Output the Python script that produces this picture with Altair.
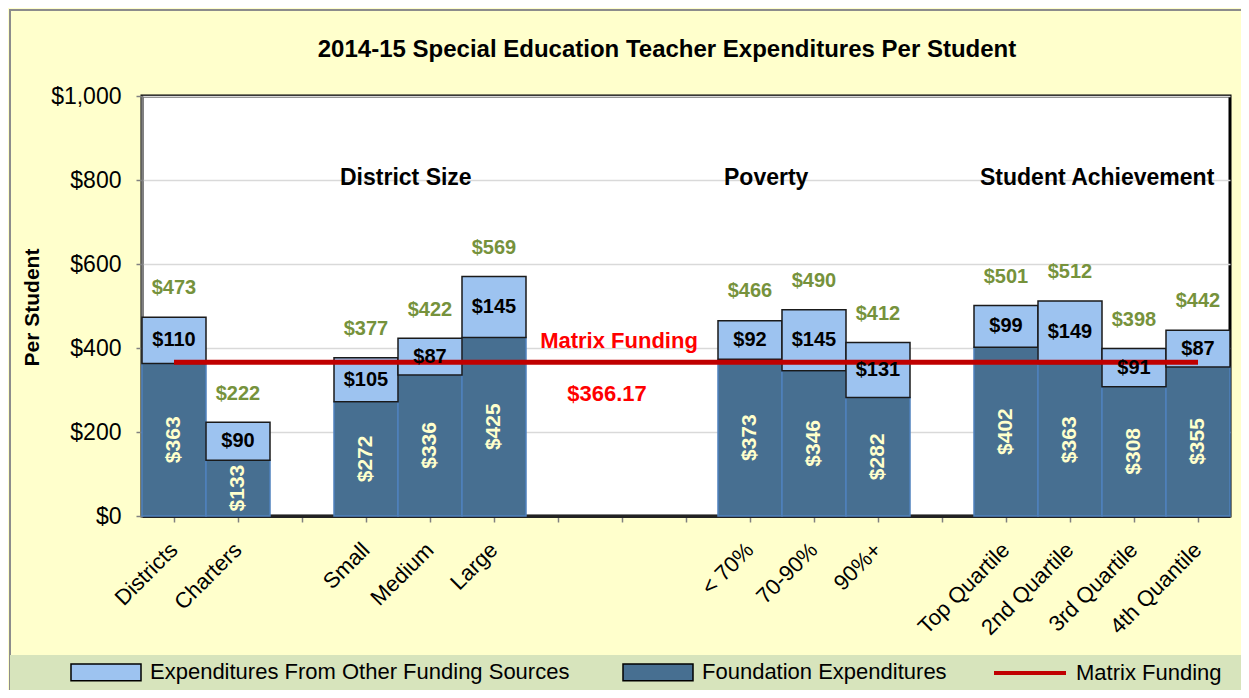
import altair as alt
import pandas as pd

# ---------------- data ----------------
categories = ["Districts", "Charters", "Small", "Medium", "Large",
              "< 70%", "70-90%", "90%+",
              "Top Quartile", "2nd Quartile", "3rd Quartile", "4th Quantile"]
foundation = [363, 133, 272, 336, 425, 373, 346, 282, 402, 363, 308, 355]
other = [110, 90, 105, 87, 145, 92, 145, 131, 99, 149, 91, 87]
totals = [473, 222, 377, 422, 569, 466, 490, 412, 501, 512, 398, 442]

axis_slots = ["Districts", "Charters", "gap1", "Small", "Medium", "Large",
              "gap2", "gap3", "gap4", "< 70%", "70-90%", "90%+", "gap5",
              "Top Quartile", "2nd Quartile", "3rd Quartile", "4th Quantile"]

matrix_value = 366.17
group_labels = ["District Size", "Poverty", "Student Achievement"]
group_anchor = ["Small", "< 70%", "Top Quartile"]

S_OTHER = "Expenditures From Other Funding Sources"
S_FOUND = "Foundation Expenditures"
S_MATRIX = "Matrix Funding"
bar_series = [S_OTHER, S_FOUND]
bar_colors = ["#9DC3F0", "#476F91"]
matrix_color = "#C00000"

FONT = "Liberation Sans"

# ---------------- tables ----------------
rows = []
for c, f, o in zip(categories, foundation, other):
    rows.append({"cat": c, "series": S_FOUND, "lo": 0, "hi": f, "val": f})
    rows.append({"cat": c, "series": S_OTHER, "lo": f, "hi": f + o, "val": o})
bars_df = pd.DataFrame(rows)
bars_df["mid"] = (bars_df["lo"] + bars_df["hi"]) / 2

tot_df = pd.DataFrame({"cat": categories, "total": totals})
rule_df = pd.DataFrame({"start": [categories[0]], "end": [categories[-1]],
                        "value": [matrix_value], "series": [S_MATRIX]})
grp_df = pd.DataFrame({"label": group_labels, "cat": group_anchor})
one = pd.DataFrame({"k": [0]})

x_scale = alt.Scale(domain=axis_slots, paddingInner=0, paddingOuter=0)
y_scale = alt.Scale(domain=[0, 1000])
color_scale = alt.Scale(domain=bar_series, range=bar_colors)
stroke_scale = alt.Scale(domain=[S_MATRIX], range=[matrix_color])

x_axis = alt.Axis(
    title=None, labelAngle=-45, labelAlign="right", labelBaseline="middle",
    labelFont=FONT, labelFontSize=22, labelColor="#000000", labelPadding=24,
    labelExpr="indexof(datum.label, 'gap') == 0 ? '' : datum.label",
    domainColor="#222222", domainWidth=3, tickColor="#808080", tickWidth=1.5,
    tickSize=6, labelOverlap=False,
)
y_axis = alt.Axis(
    title="Per Student", values=[0, 200, 400, 600, 800, 1000], format="$,.0f",
    labelFont=FONT, labelFontSize=23, labelColor="#000000", labelPadding=15,
    titleFont=FONT, titleFontSize=21, titleFontWeight="bold", titleColor="#000000",
    titleAngle=-90, titleX=-100, titleY=211, titleAlign="center", titleBaseline="bottom",
    domainColor="#808080", domainWidth=2.5, tickColor="#808080", tickWidth=1.5,
    tickSize=6, gridColor="#D9D9D9", gridWidth=1.5,
)

fill_legend = alt.Legend(
    title=None, orient="none", legendX=-72, legendY=540, direction="horizontal",
    labelFont=FONT, labelFontSize=22, labelColor="#000000", labelOffset=8,
    labelLimit=800, symbolSize=4900, columnPadding=50, padding=0,
    symbolType="M-1,-0.24H1V0.24H-1Z", symbolStrokeColor="#000000",
    symbolStrokeWidth=1.5, symbolOpacity=1,
)
stroke_legend = alt.Legend(
    title=None, orient="none", legendX=850, legendY=539, direction="horizontal",
    labelFont=FONT, labelFontSize=22, labelColor="#000000", labelOffset=8,
    labelLimit=800, symbolSize=5184, symbolType="stroke", symbolStrokeWidth=4,
    padding=0,
)

# decorative background band for the legend and outer frame
band = alt.Chart(one).mark_rect(color="#D7E4BC").encode(
    x=alt.value(-132), x2=alt.value(1100), y=alt.value(559), y2=alt.value(600))
frame = alt.Chart(one).mark_rect(fillOpacity=0, stroke="#8C8C8C", strokeWidth=2).encode(
    x=alt.value(-132), x2=alt.value(1110), y=alt.value(-86), y2=alt.value(610))

base = alt.Chart(bars_df)
dark = base.transform_filter(alt.datum.series == S_FOUND).mark_bar(
    stroke="#4F81BD", strokeWidth=1.5, opacity=1).encode(
    x=alt.X("cat:N", scale=x_scale, axis=x_axis),
    y=alt.Y("lo:Q", scale=y_scale, axis=y_axis),
    y2="hi:Q",
    color=alt.Color("series:N", scale=color_scale, legend=fill_legend),
)
light = base.transform_filter(alt.datum.series == S_OTHER).mark_bar(
    stroke="#1A1A1A", strokeWidth=1.5, opacity=1).encode(
    x=alt.X("cat:N", scale=x_scale),
    y=alt.Y("lo:Q", scale=y_scale),
    y2="hi:Q",
    color=alt.Color("series:N", scale=color_scale, legend=fill_legend),
)

found_txt = base.transform_filter(alt.datum.series == S_FOUND).mark_text(
    angle=270, font=FONT, fontSize=21, fontWeight="bold", color="#FFFFCC",
    baseline="middle", align="center").encode(
    x=alt.X("cat:N", scale=x_scale),
    y=alt.Y("mid:Q", scale=y_scale),
    text=alt.Text("val:Q", format="$,.0f"),
)
other_txt = base.transform_filter(alt.datum.series == S_OTHER).mark_text(
    font=FONT, fontSize=20, fontWeight="bold", color="#000000",
    baseline="middle", align="center").encode(
    x=alt.X("cat:N", scale=x_scale),
    y=alt.Y("mid:Q", scale=y_scale),
    text=alt.Text("val:Q", format="$,.0f"),
)
tot_txt = alt.Chart(tot_df).mark_text(
    font=FONT, fontSize=20, fontWeight="bold", color="#76923C",
    baseline="middle", align="center", dy=-29).encode(
    x=alt.X("cat:N", scale=x_scale),
    y=alt.Y("total:Q", scale=y_scale),
    text=alt.Text("total:Q", format="$,.0f"),
)

rule = alt.Chart(rule_df).mark_rule(strokeWidth=5).encode(
    x=alt.X("start:N", scale=x_scale),
    x2="end:N",
    y=alt.Y("value:Q", scale=y_scale),
    stroke=alt.Stroke("series:N", scale=stroke_scale, legend=stroke_legend),
)
matrix_lbl = alt.Chart(one).mark_text(
    font=FONT, fontSize=22, fontWeight="bold", color="#FF0000",
    align="center", baseline="middle", dx=-3, dy=-21, text=S_MATRIX).encode(
    x=alt.X(datum="gap3", scale=x_scale), y=alt.Y(datum=matrix_value, scale=y_scale))
matrix_val = alt.Chart(one).mark_text(
    font=FONT, fontSize=22, fontWeight="bold", color="#FF0000",
    align="center", baseline="middle", dx=-15, dy=32, text=f"${matrix_value:.2f}").encode(
    x=alt.X(datum="gap3", scale=x_scale), y=alt.Y(datum=matrix_value, scale=y_scale))

grp_txt = alt.Chart(grp_df).mark_text(
    font=FONT, fontSize=23, fontWeight="bold", color="#000000",
    align="left", baseline="middle", dx=-26).encode(
    x=alt.X("cat:N", scale=x_scale),
    y=alt.Y(datum=805, scale=y_scale),
    text="label:N",
)

chart = alt.layer(
    frame, band, dark, light, rule, found_txt, other_txt, tot_txt,
    matrix_lbl, matrix_val, grp_txt,
).properties(
    width=1088, height=420,
    autosize=alt.AutoSizeParams(type="none"),
    padding={"left": 134, "top": 88, "right": 11, "bottom": 174},
    title=alt.TitleParams(
        "2014-15 Special Education Teacher Expenditures Per Student",
        font=FONT, fontSize=24, fontWeight="bold", color="#000000",
        anchor="middle", offset=-53, dx=-19),
).configure(
    background="#FFFFCC",
).configure_view(
    fill="#FFFFFF", stroke="#000000", strokeWidth=3,
)

chart.save("out.html", embed_options={"renderer": "svg", "actions": False})
